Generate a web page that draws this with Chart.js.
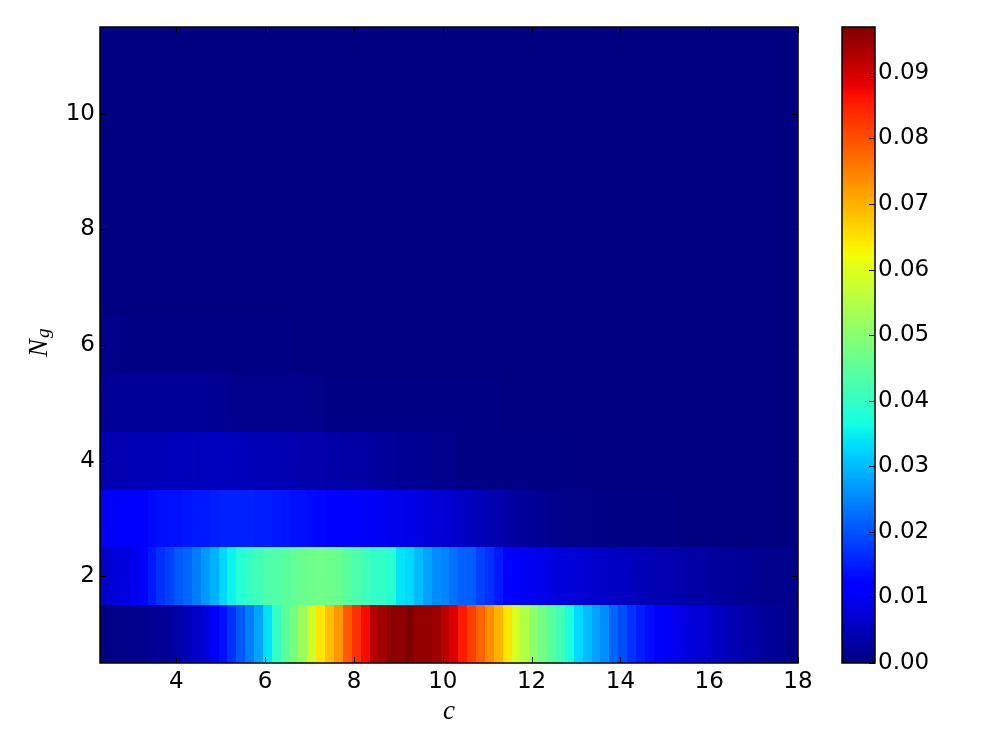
<!DOCTYPE html>
<html>
<head>
<meta charset="utf-8">
<script src="https://cdn.jsdelivr.net/npm/chart.js@4.4.0/dist/chart.umd.min.js"></script>
<style>
  body { margin: 0; background: #fff; }
  #wrap { position: relative; width: 1000px; height: 750px; }
  #heat { position: absolute; left: 0; top: 0; }
  #cbar { position: absolute; left: 820px; top: 0; }
</style>
</head>
<body>
<div id="wrap">
  <canvas id="heat" width="820" height="750"></canvas>
  <canvas id="cbar" width="180" height="750"></canvas>
</div>
<script>
// c values (cell centres) and N_g rows
const cValues = [
  2.25,2.45,2.65,2.85,3.05,3.25,3.45,3.65,3.85,4.05,
  4.25,4.45,4.65,4.85,5.05,5.25,5.45,5.65,5.85,6.05,
  6.25,6.45,6.65,6.85,7.05,7.25,7.45,7.65,7.85,8.05,
  8.25,8.45,8.65,8.85,9.05,9.25,9.45,9.65,9.85,10.05,
  10.25,10.45,10.65,10.85,11.05,11.25,11.45,11.65,11.85,12.05,
  12.25,12.45,12.65,12.85,13.05,13.25,13.45,13.65,13.85,14.05,
  14.25,14.45,14.65,14.85,15.05,15.25,15.45,15.65,15.85,16.05,
  16.25,16.45,16.65,16.85,17.05,17.25,17.45,17.65,17.85,18.05
];
const ngValues = [1, 2, 3, 4, 5, 6, 7, 8, 9, 10, 11];

const ng1 = [
  0.0005,0.0006,0.0008,0.0010,0.0012,0.0013,0.0016,0.0020,0.0026,0.0036,
  0.0047,0.0062,0.0078,0.0105,0.0133,0.0170,0.0206,0.0242,0.0278,0.0334,
  0.0399,0.0445,0.0474,0.0520,0.0580,0.0647,0.0686,0.0725,0.0790,0.0830,
  0.0868,0.0921,0.0936,0.0957,0.0957,0.0970,0.0953,0.0953,0.0943,0.0918,
  0.0894,0.0855,0.0816,0.0777,0.0738,0.0699,0.0646,0.0594,0.0549,0.0504,
  0.0474,0.0444,0.0414,0.0369,0.0327,0.0303,0.0278,0.0254,0.0218,0.0194,
  0.0169,0.0150,0.0133,0.0111,0.0100,0.0092,0.0085,0.0079,0.0072,0.0064,
  0.0058,0.0047,0.0043,0.0036,0.0032,0.0026,0.0021,0.0017,0.0011,0.0006
];
const ng2 = [
  0.0064,0.0066,0.0079,0.0082,0.0096,0.0111,0.0145,0.0170,0.0182,0.0206,
  0.0218,0.0242,0.0266,0.0290,0.0327,0.0353,0.0384,0.0399,0.0414,0.0429,
  0.0432,0.0444,0.0453,0.0465,0.0468,0.0470,0.0468,0.0459,0.0444,0.0429,
  0.0414,0.0401,0.0397,0.0384,0.0339,0.0327,0.0302,0.0278,0.0254,0.0248,
  0.0230,0.0214,0.0212,0.0182,0.0170,0.0145,0.0112,0.0110,0.0102,0.0096,
  0.0091,0.0087,0.0083,0.0078,0.0075,0.0070,0.0066,0.0063,0.0060,0.0058,
  0.0055,0.0051,0.0048,0.0045,0.0043,0.0040,0.0037,0.0034,0.0031,0.0028,
  0.0026,0.0023,0.0021,0.0019,0.0017,0.0015,0.0013,0.0012,0.0011,0.0010
];
const ng3 = [
  0.0098,0.0100,0.0103,0.0107,0.0112,0.0125,0.0130,0.0134,0.0137,0.0140,
  0.0142,0.0144,0.0147,0.0150,0.0152,0.0153,0.0154,0.0153,0.0151,0.0149,
  0.0146,0.0143,0.0139,0.0135,0.0131,0.0127,0.0123,0.0118,0.0114,0.0110,
  0.0106,0.0103,0.0100,0.0097,0.0094,0.0090,0.0086,0.0082,0.0078,0.0074,
  0.0068,0.0062,0.0056,0.0050,0.0044,0.0039,0.0034,0.0029,0.0025,0.0021,
  0.0017,0.0014,0.0012,0.0010,0.0009,0.0008,0.0007,0.0006,0.0006,0.0005,
  0.0005,0.0005,0.0004,0.0004,0.0004,0.0004,0.0003,0.0003,0.0003,0.0003,
  0.0003,0.0003,0.0002,0.0002,0.0002,0.0002,0.0002,0.0002,0.0002,0.0002
];
const ng4 = [
  0.0042,0.0043,0.0044,0.0045,0.0046,0.0047,0.0048,0.0049,0.0050,0.0051,
  0.0052,0.0053,0.0054,0.0055,0.0055,0.0055,0.0050,0.0049,0.0048,0.0047,
  0.0046,0.0043,0.0042,0.0041,0.0040,0.0039,0.0037,0.0035,0.0034,0.0033,
  0.0031,0.0028,0.0026,0.0024,0.0022,0.0020,0.0018,0.0016,0.0014,0.0013,
  0.0012,0.0006,0.0006,0.0006,0.0005,0.0005,0.0005,0.0005,0.0004,0.0004,
  0.0004,0.0004,0.0004,0.0004,0.0003,0.0003,0.0003,0.0003,0.0003,0.0003,
  0.0003,0.0003,0.0003,0.0002,0.0002,0.0002,0.0002,0.0002,0.0002,0.0002,
  0.0002,0.0002,0.0002,0.0002,0.0002,0.0002,0.0002,0.0002,0.0002,0.0002
];
const ng5 = [
  0.0021,0.0021,0.0021,0.0021,0.0021,0.0021,0.0021,0.0020,0.0020,0.0020,
  0.0020,0.0020,0.0020,0.0016,0.0016,0.0015,0.0015,0.0015,0.0015,0.0015,
  0.0015,0.0014,0.0014,0.0014,0.0008,0.0008,0.0007,0.0007,0.0007,0.0007,
  0.0006,0.0006,0.0006,0.0006,0.0006,0.0005,0.0005,0.0005,0.0005,0.0005,
  0.0004,0.0004,0.0004,0.0004,0.0004,0.0004,0.0003,0.0003,0.0003,0.0003,
  0.0003,0.0003,0.0003,0.0003,0.0002,0.0002,0.0002,0.0002,0.0002,0.0002,
  0.0002,0.0002,0.0002,0.0002,0.0002,0.0002,0.0001,0.0001,0.0001,0.0001,
  0.0001,0.0001,0.0001,0.0001,0.0001,0.0001,0.0001,0.0001,0.0001,0.0001
];
const ng6 = [
  0.0008,0.0008,0.0008,0.0007,0.0007,0.0007,0.0007,0.0007,0.0007,0.0007,
  0.0007,0.0006,0.0006,0.0006,0.0006,0.0006,0.0006,0.0004,0.0004,0.0004,
  0.0004,0.0004,0.0004,0.0003,0.0003,0.0003,0.0003,0.0003,0.0003,0.0003,
  0.0002,0.0002,0.0002,0.0002,0.0002,0.0002,0.0002,0.0002,0.0002,0.0002,
  0.0002,0.0002,0.0001,0.0001,0.0001,0.0001,0.0001,0.0001,0.0001,0.0001,
  0.0001,0.0001,0.0001,0.0001,0.0001,0.0001,0.0001,0.0001,0.0001,0.0001,
  0.0001,0.0001,0.0001,0.0001,0.0001,0.0001,0.0001,0.0001,0.0001,0.0001,
  0.0001,0.0001,0.0001,0.0001,0.0001,0.0001,0.0001,0.0001,0.0001,0.0001
];
const ng7 = [
  0.0003,0.0003,0.0003,0.0003,0.0003,0.0003,0.0002,0.0002,0.0002,0.0002,
  0.0002,0.0002,0.0002,0.0002,0.0002,0.0002,0.0002,0.0002,0.0001,0.0001,
  0.0001,0.0001,0.0001,0.0001,0.0001,0.0001,0.0001,0.0001,0.0001,0.0001,
  0.0001,0.0001,0.0001,0.0001,0.0001,0.0001,0.0001,0.0001,0.0001,0.0001,
  0.0001,0.0001,0.0001,0.0001,0.0001,0.0001,0.0001,0.0001,0.0001,0.0001,
  0.0001,0.0001,0.0001,0.0001,0.0001,0.0001,0.0001,0.0001,0.0001,0.0001,
  0.0001,0.0001,0.0001,0.0001,0.0001,0.0001,0.0001,0.0001,0.0001,0.0001,
  0.0001,0.0001,0.0001,0.0001,0.0001,0.0001,0.0001,0.0001,0.0001,0.0001
];
const ng8 = [
  0.0002,0.0002,0.0002,0.0002,0.0002,0.0002,0.0002,0.0002,0.0002,0.0001,
  0.0001,0.0001,0.0001,0.0001,0.0001,0.0001,0.0001,0.0001,0.0001,0.0001,
  0.0001,0.0001,0.0001,0.0001,0.0001,0.0001,0.0001,0.0001,0.0001,0.0001,
  0.0001,0.0001,0.0001,0.0001,0.0001,0.0001,0.0001,0.0001,0.0001,0.0001,
  0.0001,0.0001,0.0001,0.0001,0.0001,0.0001,0.0001,0.0001,0.0001,0.0001,
  0.0001,0.0001,0.0001,0.0001,0.0001,0.0001,0.0001,0.0001,0.0001,0.0001,
  0.0001,0.0001,0.0001,0.0001,0.0001,0.0001,0.0001,0.0001,0.0001,0.0001,
  0.0001,0.0001,0.0001,0.0001,0.0001,0.0001,0.0001,0.0001,0.0001,0.0001
];
const ng9 = [
  0.0001,0.0001,0.0001,0.0001,0.0001,0.0001,0.0001,0.0001,0.0001,0.0001,
  0.0001,0.0001,0.0001,0.0001,0.0001,0.0001,0.0001,0.0001,0.0001,0.0001,
  0.0001,0.0001,0.0001,0.0001,0.0001,0.0001,0.0001,0.0001,0.0001,0.0001,
  0.0001,0.0001,0.0001,0.0001,0.0001,0.0001,0.0001,0.0001,0.0001,0.0001,
  0.0001,0.0001,0.0001,0.0001,0.0001,0.0001,0.0001,0.0001,0.0001,0.0001,
  0.0001,0.0001,0.0001,0.0001,0.0001,0.0001,0.0001,0.0001,0.0001,0.0001,
  0.0001,0.0001,0.0001,0.0001,0.0001,0.0001,0.0001,0.0001,0.0001,0.0001,
  0.0001,0.0001,0.0001,0.0001,0.0001,0.0001,0.0001,0.0001,0.0001,0.0001
];
const ng10 = [
  0.0001,0.0001,0.0001,0.0001,0.0001,0.0001,0.0001,0.0001,0.0001,0.0001,
  0.0001,0.0001,0.0001,0.0001,0.0001,0.0001,0.0001,0.0001,0.0001,0.0001,
  0.0001,0.0001,0.0001,0.0001,0.0001,0.0001,0.0001,0.0001,0.0001,0.0001,
  0.0000,0.0000,0.0000,0.0000,0.0000,0.0000,0.0000,0.0000,0.0000,0.0000,
  0.0000,0.0000,0.0000,0.0000,0.0000,0.0000,0.0000,0.0000,0.0000,0.0000,
  0.0000,0.0000,0.0000,0.0000,0.0000,0.0000,0.0000,0.0000,0.0000,0.0000,
  0.0000,0.0000,0.0000,0.0000,0.0000,0.0000,0.0000,0.0000,0.0000,0.0000,
  0.0000,0.0000,0.0000,0.0000,0.0000,0.0000,0.0000,0.0000,0.0000,0.0000
];
const ng11 = [
  0.0001,0.0001,0.0001,0.0001,0.0001,0.0001,0.0001,0.0001,0.0001,0.0001,
  0.0001,0.0001,0.0001,0.0001,0.0001,0.0001,0.0001,0.0001,0.0001,0.0001,
  0.0000,0.0000,0.0000,0.0000,0.0000,0.0000,0.0000,0.0000,0.0000,0.0000,
  0.0000,0.0000,0.0000,0.0000,0.0000,0.0000,0.0000,0.0000,0.0000,0.0000,
  0.0000,0.0000,0.0000,0.0000,0.0000,0.0000,0.0000,0.0000,0.0000,0.0000,
  0.0000,0.0000,0.0000,0.0000,0.0000,0.0000,0.0000,0.0000,0.0000,0.0000,
  0.0000,0.0000,0.0000,0.0000,0.0000,0.0000,0.0000,0.0000,0.0000,0.0000,
  0.0000,0.0000,0.0000,0.0000,0.0000,0.0000,0.0000,0.0000,0.0000,0.0000
];
const rows = [ng1, ng2, ng3, ng4, ng5, ng6, ng7, ng8, ng9, ng10, ng11];

const xTicks = [4, 6, 8, 10, 12, 14, 16, 18];
const yTicks = [2, 4, 6, 8, 10];
const cbarTicks = [0.00, 0.01, 0.02, 0.03, 0.04, 0.05, 0.06, 0.07, 0.08, 0.09];

const vmax = Math.max(...rows.map(r => Math.max(...r)));
const cellW = 0.2;
const tickLen = 6;

Chart.defaults.font.family = "'DejaVu Sans', sans-serif";
Chart.defaults.color = '#000';

// matplotlib "jet" colormap
const JET = {
  r: [[0, 0], [0.35, 0], [0.66, 1], [0.89, 1], [1, 0.5]],
  g: [[0, 0], [0.125, 0], [0.375, 1], [0.64, 1], [0.91, 0], [1, 0]],
  b: [[0, 0.5], [0.11, 1], [0.34, 1], [0.65, 0], [1, 0]]
};
function seg(pts, t) {
  for (let k = 1; k < pts.length; k++) {
    if (t <= pts[k][0]) {
      const [x0, y0] = pts[k - 1], [x1, y1] = pts[k];
      return y0 + (y1 - y0) * (t - x0) / (x1 - x0);
    }
  }
  return pts[pts.length - 1][1];
}
function jet(v) {
  let idx = Math.floor(v / vmax * 256);
  idx = Math.max(0, Math.min(255, idx));
  const t = idx / 255;
  const c = k => Math.round(seg(JET[k], t) * 255);
  return 'rgb(' + c('r') + ',' + c('g') + ',' + c('b') + ')';
}

const cells = [];
rows.forEach((row, r) => {
  row.forEach((v, i) => cells.push({ x: cValues[i], y: ngValues[r], v: v }));
});

function frameAndTicks(ctx, area, xs, ys) {
  ctx.save();
  ctx.strokeStyle = '#000';
  ctx.lineWidth = 1;
  ctx.beginPath();
  if (xs) {
    xs.ticks.forEach(t => {
      const px = Math.round(xs.getPixelForValue(t.value)) + 0.5;
      ctx.moveTo(px, area.bottom); ctx.lineTo(px, area.bottom - tickLen);
      ctx.moveTo(px, area.top); ctx.lineTo(px, area.top + tickLen);
    });
  }
  ys.ticks.forEach(t => {
    const py = Math.round(ys.getPixelForValue(t.value)) + 0.5;
    if (xs) { ctx.moveTo(area.left, py); ctx.lineTo(area.left + tickLen, py); }
    ctx.moveTo(area.right, py); ctx.lineTo(area.right - tickLen, py);
  });
  ctx.stroke();
  ctx.lineWidth = 1.5;
  ctx.strokeRect(area.left, area.top, area.right - area.left, area.bottom - area.top);
  ctx.restore();
}

const heatPlugin = {
  id: 'heatCells',
  beforeDatasetsDraw(chart) {
    const { ctx, chartArea, scales } = chart;
    const xs = scales.x, ys = scales.y;
    ctx.save();
    ctx.beginPath();
    ctx.rect(chartArea.left, chartArea.top, chartArea.right - chartArea.left, chartArea.bottom - chartArea.top);
    ctx.clip();
    chart.data.datasets[0].data.forEach(p => {
      const x0 = Math.round(xs.getPixelForValue(p.x - cellW / 2));
      const x1 = Math.round(xs.getPixelForValue(p.x + cellW / 2));
      const y0 = Math.round(ys.getPixelForValue(p.y + 0.5));
      const y1 = Math.round(ys.getPixelForValue(p.y - 0.5));
      ctx.fillStyle = jet(p.v);
      ctx.fillRect(x0, y0, x1 - x0, y1 - y0);
    });
    ctx.restore();
  },
  afterDraw(chart) {
    const { ctx, chartArea, scales } = chart;
    frameAndTicks(ctx, chartArea, scales.x, scales.y);
    // y axis label N_g
    ctx.save();
    ctx.fillStyle = '#000';
    ctx.translate(47, 357);
    ctx.rotate(-Math.PI / 2);
    ctx.textBaseline = 'alphabetic';
    ctx.textAlign = 'left';
    ctx.font = "italic 27px 'Liberation Serif'";
    ctx.fillText('N', 0, 0);
    const w = ctx.measureText('N').width;
    ctx.font = "italic 19px 'Liberation Serif'";
    ctx.fillText('g', w + 1, 2);
    ctx.restore();
  }
};

new Chart(document.getElementById('heat'), {
  type: 'scatter',
  data: { datasets: [{ data: cells, pointRadius: 0, pointHoverRadius: 0 }] },
  options: {
    responsive: false,
    animation: false,
    events: [],
    layout: { padding: { left: 0, right: 22, top: 27, bottom: 0 } },
    plugins: { legend: { display: false }, tooltip: { enabled: false } },
    scales: {
      x: {
        type: 'linear', min: 2.28, max: 18,
        afterBuildTicks: s => { s.ticks = xTicks.map(v => ({ value: v })); },
        afterFit: s => { s.height = 87; },
        grid: { display: false, drawTicks: false },
        border: { display: false },
        ticks: { font: { size: 23 }, padding: 5, maxRotation: 0, autoSkip: false },
        title: {
          display: true, text: 'c',
          font: { family: "'Liberation Serif', serif", style: 'italic', size: 27 },
          padding: { top: 0, bottom: 22 }
        }
      },
      y: {
        type: 'linear', min: 0.5, max: 11.5,
        afterBuildTicks: s => { s.ticks = yTicks.map(v => ({ value: v })); },
        afterFit: s => { s.width = 100; },
        grid: { display: false, drawTicks: false },
        border: { display: false },
        ticks: { font: { size: 23 }, padding: 5, autoSkip: false }
      }
    }
  },
  plugins: [heatPlugin]
});

const cbarPlugin = {
  id: 'cbarFill',
  beforeDatasetsDraw(chart) {
    const { ctx, chartArea, scales } = chart;
    const ys = scales.y;
    for (let k = 0; k < 256; k++) {
      const y0 = Math.round(ys.getPixelForValue((k + 1) / 256 * vmax));
      const y1 = Math.round(ys.getPixelForValue(k / 256 * vmax));
      ctx.fillStyle = jet((k + 0.5) / 256 * vmax);
      ctx.fillRect(chartArea.left, y0, chartArea.right - chartArea.left, y1 - y0);
    }
  },
  afterDraw(chart) {
    frameAndTicks(chart.ctx, chart.chartArea, null, chart.scales.y);
  }
};

new Chart(document.getElementById('cbar'), {
  type: 'scatter',
  data: { datasets: [{ data: [], pointRadius: 0 }] },
  options: {
    responsive: false,
    animation: false,
    events: [],
    layout: { padding: { left: 22, right: 0, top: 27, bottom: 87 } },
    plugins: { legend: { display: false }, tooltip: { enabled: false } },
    scales: {
      x: { display: false, min: 0, max: 1 },
      y: {
        position: 'right', min: 0, max: vmax,
        afterBuildTicks: s => { s.ticks = cbarTicks.map(v => ({ value: v })); },
        afterFit: s => { s.width = 125; },
        grid: { display: false, drawTicks: false },
        border: { display: false },
        ticks: { font: { size: 23 }, padding: 3, autoSkip: false, callback: v => v.toFixed(2) }
      }
    }
  },
  plugins: [cbarPlugin]
});
</script>
</body>
</html>
